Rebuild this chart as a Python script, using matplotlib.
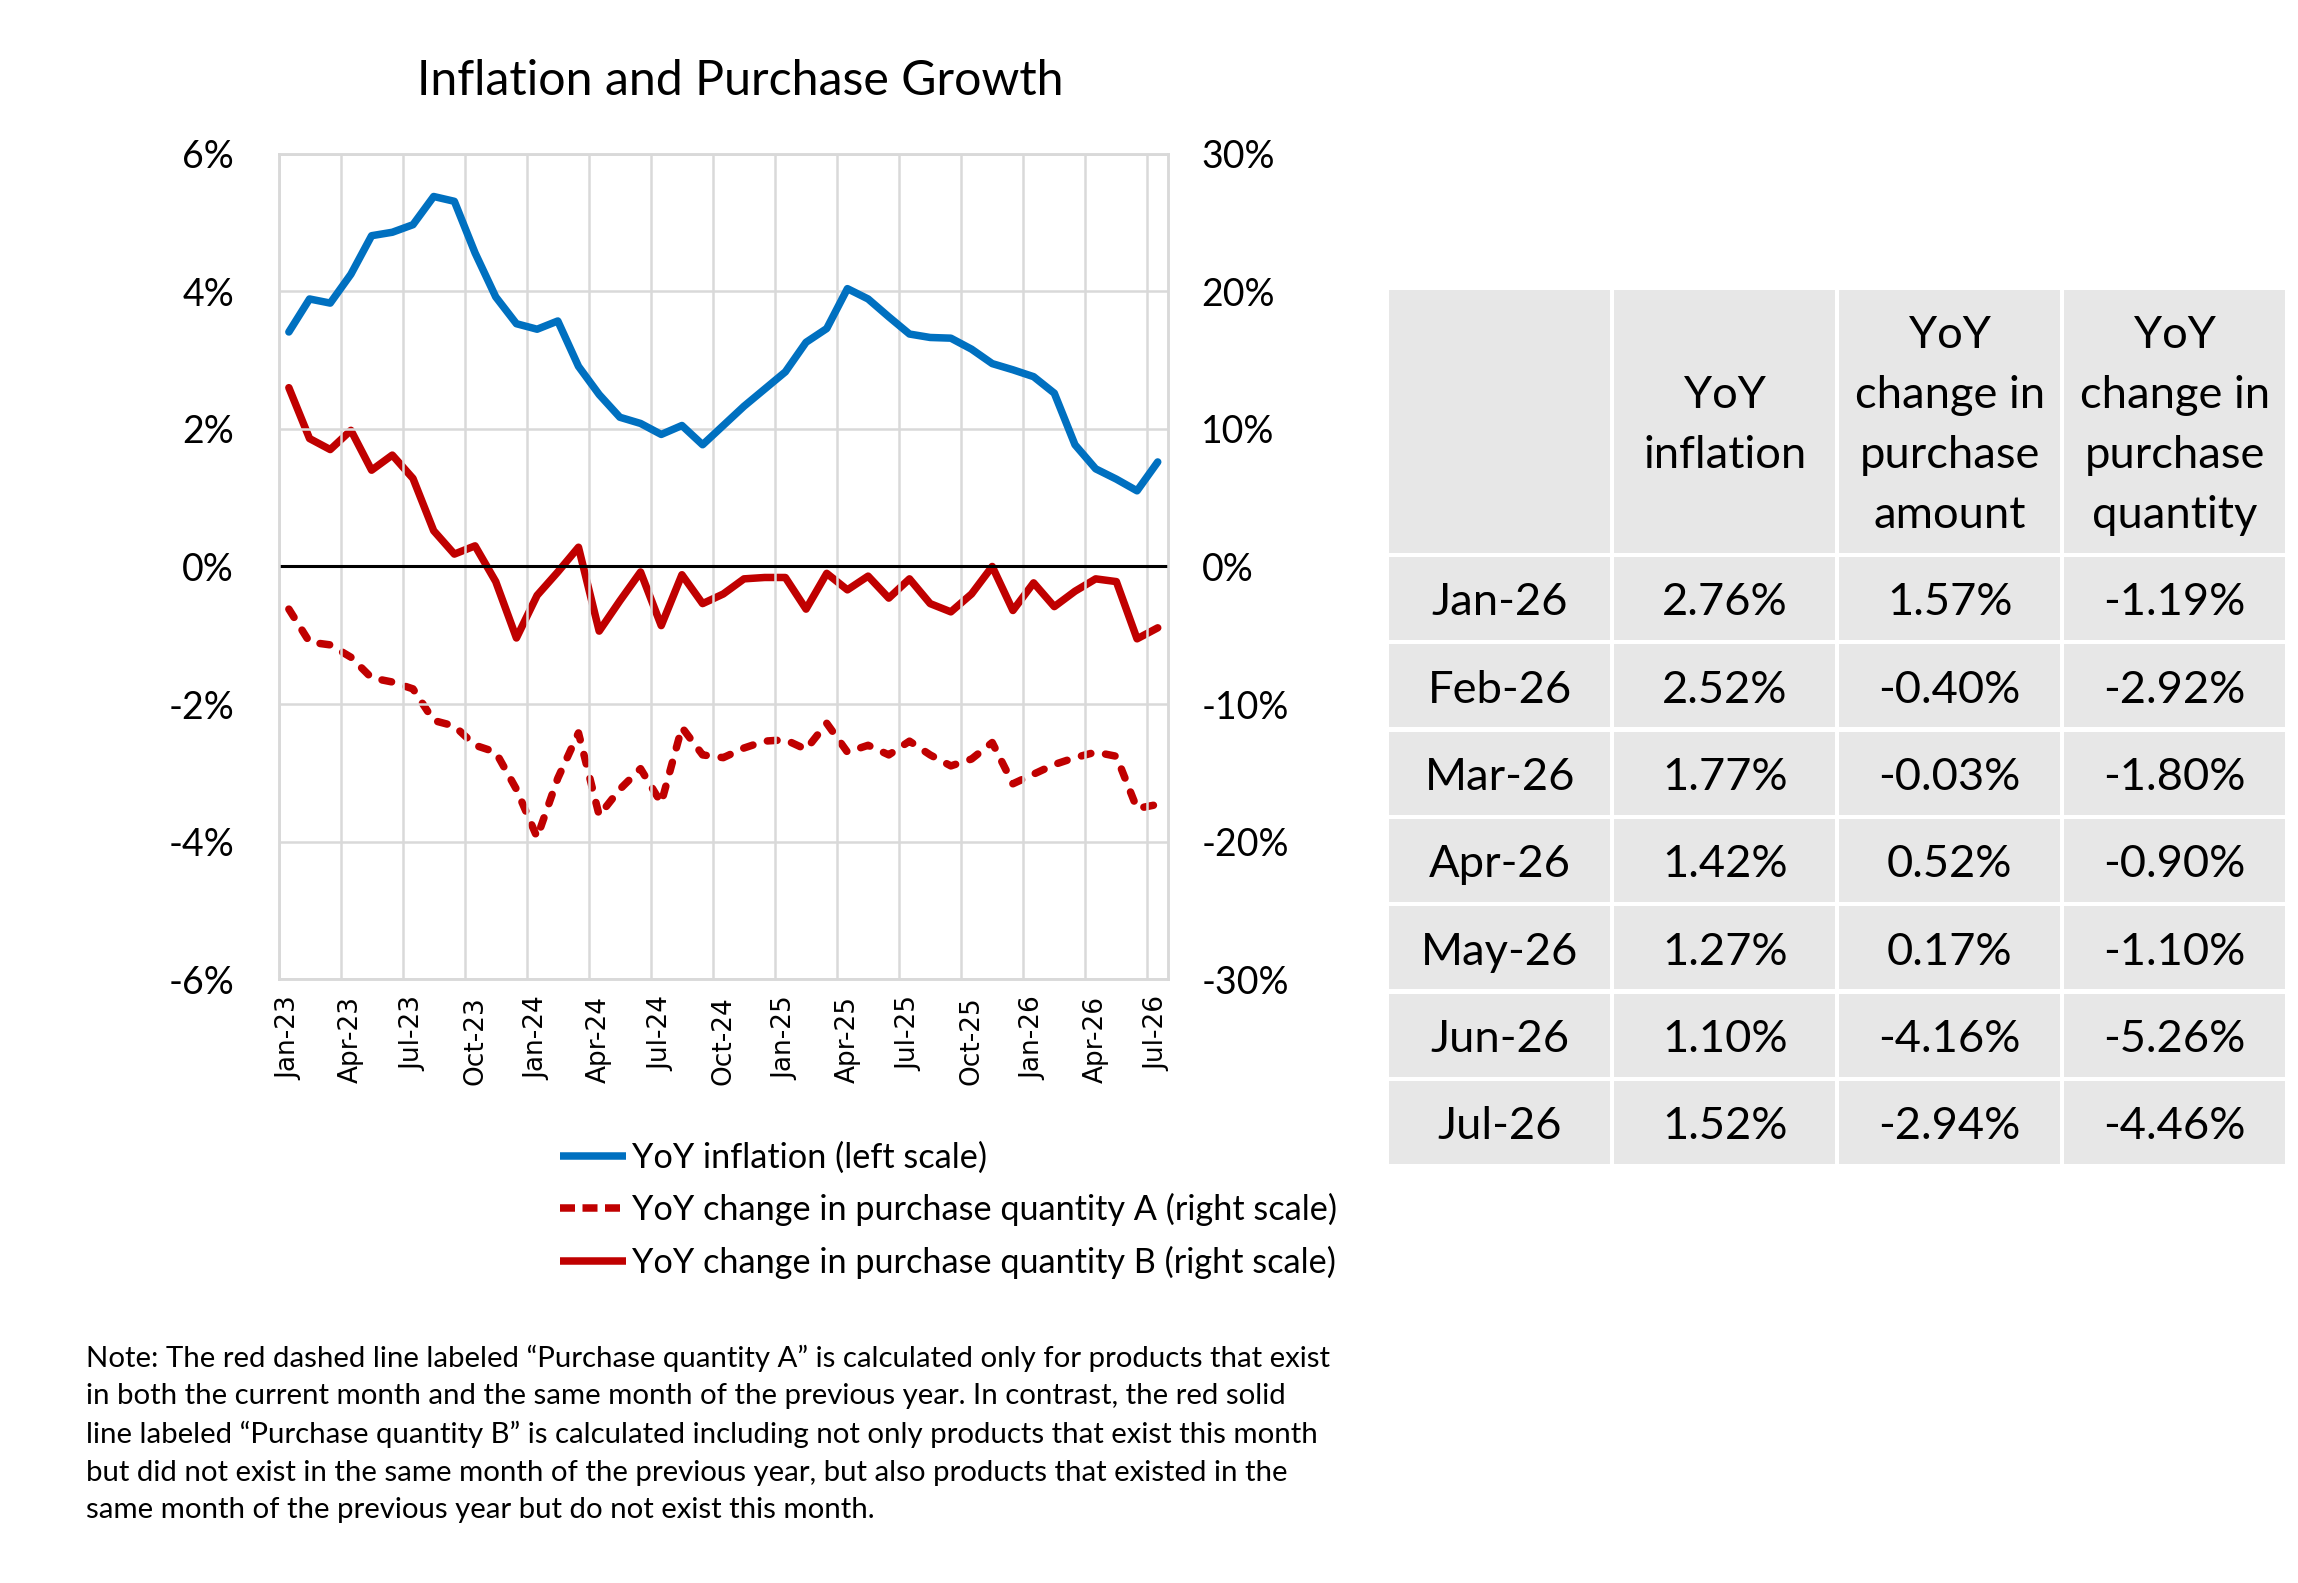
import numpy as np
import matplotlib.pyplot as plt
from matplotlib.lines import Line2D
from matplotlib.patches import Rectangle

plt.rcParams['font.family'] = ['Lato', 'DejaVu Sans']

BLUE = "#0070C0"
RED = "#C00000"
GRID = "#D9D9D9"
CELL = "#E7E7E7"

# monthly series, Jan-23 .. Jul-26
inflation = [3.41, 3.89, 3.83, 4.25, 4.81, 4.86, 4.97, 5.38, 5.31, 4.56,
             3.92, 3.53, 3.45, 3.57, 2.91, 2.50, 2.17, 2.08, 1.92, 2.05,
             1.77, 2.05, 2.33, 2.58, 2.83, 3.26, 3.46, 4.04, 3.89, 3.63,
             3.38, 3.33, 3.32, 3.16, 2.95, 2.86, 2.76, 2.52, 1.77, 1.42,
             1.27, 1.10, 1.52]
qty_a = [-3.1, -5.5, -5.7, -6.6, -8.1, -8.4, -8.9, -11.2, -11.6, -13.0,
         -13.5, -16.2, -19.7, -15.4, -12.1, -18.1, -16.2, -14.7, -17.2, -11.7,
         -13.7, -13.9, -13.2, -12.7, -12.6, -13.3, -11.4, -13.5, -13.0, -13.7,
         -12.7, -13.7, -14.5, -14.0, -12.8, -15.8, -15.1, -14.4, -13.9, -13.5,
         -13.8, -17.6, -17.3]
qty_b = [13.0, 9.3, 8.5, 9.9, 7.0, 8.1, 6.4, 2.6, 0.9, 1.5,
         -1.1, -5.2, -2.1, -0.4, 1.4, -4.7, -2.5, -0.4, -4.3, -0.6,
         -2.7, -2.0, -0.9, -0.8, -0.8, -3.1, -0.5, -1.7, -0.7, -2.3,
         -0.9, -2.7, -3.3, -2.0, 0.0, -3.2, -1.19, -2.92, -1.80, -0.90,
         -1.10, -5.26, -4.46]
tick_labels = ["Jan-23", "Apr-23", "Jul-23", "Oct-23", "Jan-24", "Apr-24",
               "Jul-24", "Oct-24", "Jan-25", "Apr-25", "Jul-25", "Oct-25",
               "Jan-26", "Apr-26", "Jul-26"]

# table on the right
table_months = ["Jan-26", "Feb-26", "Mar-26", "Apr-26", "May-26", "Jun-26", "Jul-26"]
table_inflation = [2.76, 2.52, 1.77, 1.42, 1.27, 1.10, 1.52]
table_amount = [1.57, -0.40, -0.03, 0.52, 0.17, -4.16, -2.94]
table_quantity = [-1.19, -2.92, -1.80, -0.90, -1.10, -5.26, -4.46]
table_headers = ["", "YoY\ninflation", "YoY\nchange in\npurchase\namount",
                 "YoY\nchange in\npurchase\nquantity"]

note = ("Note: The red dashed line labeled \u201cPurchase quantity A\u201d is calculated only for products that exist\n"
        "in both the current month and the same month of the previous year. In contrast, the red solid\n"
        "line labeled \u201cPurchase quantity B\u201d is calculated including not only products that exist this month\n"
        "but did not exist in the same month of the previous year, but also products that existed in the\n"
        "same month of the previous year but do not exist this month.")

fig = plt.figure(figsize=(11.49, 7.915), dpi=200)

# ---- chart ----
ax = fig.add_axes([0.1212, 0.3815, 0.3871, 0.5213])
ax2 = ax.twinx()
x = np.arange(len(inflation))

LW = 2.7
ax.plot(x, inflation, color=BLUE, lw=LW, solid_joinstyle='round',
        solid_capstyle='round', zorder=4)
ax2.plot(x, qty_a, color=RED, lw=LW, dashes=(1.3, 2.0), dash_capstyle='round',
         dash_joinstyle='round', zorder=3)
ax2.plot(x, qty_b, color=RED, lw=LW, solid_joinstyle='round',
         solid_capstyle='round', zorder=3)

ax.set_xlim(-0.5, len(x) - 0.5)
ax.set_ylim(-6, 6)
ax2.set_ylim(-30, 30)
ax.set_yticks(np.arange(-6, 7, 2))
ax.set_yticklabels([f"{v}%" for v in range(-6, 7, 2)])
ax2.set_yticks(np.arange(-30, 31, 10))
ax2.set_yticklabels([f"{v}%" for v in range(-30, 31, 10)])
ax.set_xticks(np.arange(0, len(x), 3))
ax.set_xticklabels(tick_labels, rotation=90, family='DejaVu Sans', fontsize=9.5)

for v in np.arange(-0.5, len(x), 3):
    ax.axvline(v, color=GRID, lw=0.9, zorder=0)
for v in range(-6, 7, 2):
    ax.axhline(v, color=GRID, lw=0.9, zorder=0)
ax.axhline(0, color='black', lw=1.1, zorder=2)

for a in (ax, ax2):
    for s in a.spines.values():
        s.set_color(GRID)
        s.set_linewidth(0.9)
    a.tick_params(length=0)
ax.tick_params(axis='y', labelsize=13.5, pad=16)
ax.tick_params(axis='x', pad=6)
ax2.tick_params(axis='y', labelsize=13.5, pad=12)
ax.set_zorder(ax2.get_zorder() + 1)
ax.patch.set_visible(False)

fig.text(0.322, 0.949, "Inflation and Purchase Growth", ha='center', va='center', fontsize=17.4)

handles = [Line2D([], [], color=BLUE, lw=LW, solid_capstyle='butt'),
           Line2D([], [], color=RED, lw=LW, dashes=(2.0, 1.0)),
           Line2D([], [], color=RED, lw=LW, solid_capstyle='butt')]
labels = ["YoY inflation (left scale)",
          "YoY change in purchase quantity A (right scale)",
          "YoY change in purchase quantity B (right scale)"]
fig.legend(handles, labels, loc='upper left', bbox_to_anchor=(0.2435, 0.279),
           frameon=False, fontsize=12.35, handlelength=1.95, handletextpad=0.15,
           labelspacing=0.57, borderaxespad=0, borderpad=0)

fig.text(0.0376, 0.0944, note, ha='left', va='center', fontsize=10.6, linespacing=1.54)

# ---- table ----
tab = fig.add_axes([0.6046, 0.262, 0.3916, 0.5547])
tab.set_xlim(0, 614)
tab.set_ylim(599, 0)
tab.axis('off')
col_w = 614 / 4
head_h = 182
row_h = (599 - head_h) / len(table_months)
gap = 3

rows = [table_headers]
for m, a, b, c in zip(table_months, table_inflation, table_amount, table_quantity):
    rows.append([m, f"{a:.2f}%", f"{b:.2f}%", f"{c:.2f}%"])

for r, row in enumerate(rows):
    y0 = 0 if r == 0 else head_h + (r - 1) * row_h
    h = head_h if r == 0 else row_h
    for c, txt in enumerate(row):
        x0 = c * col_w
        tab.add_patch(Rectangle((x0, y0), col_w - gap, h - gap, facecolor=CELL,
                                edgecolor='none'))
        tab.text(x0 + (col_w - gap) / 2, y0 + (h - gap) / 2 + 3, txt,
                 ha='center', va='center', fontsize=16.3, linespacing=1.58)

fig.savefig("out.png", dpi=200, facecolor='white')
